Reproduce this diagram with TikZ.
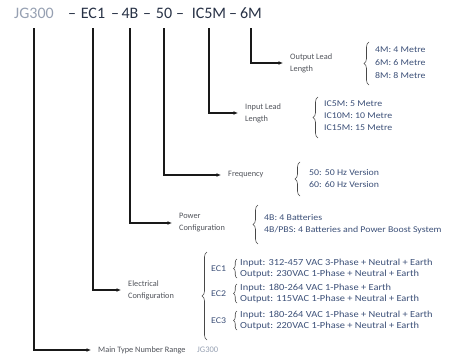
\documentclass[tikz,border=0pt]{standalone}
\usepackage{fontspec}
\setmainfont{Carlito}
\newfontfamily\itemfont[FakeStretch=1.12]{Carlito}
\usetikzlibrary{arrows.meta,decorations.pathreplacing}
\definecolor{itemc}{RGB}{60,80,120}
\definecolor{labelc}{RGB}{80,83,90}
\definecolor{titlec}{RGB}{40,50,70}
\definecolor{faintc}{RGB}{150,160,178}
\definecolor{linec}{RGB}{25,25,25}
\begin{document}
\begin{tikzpicture}[x=1pt,y=-1pt,
  title/.style={font=\fontsize{16}{19}\selectfont, text=titlec, inner sep=0pt, anchor=base},
  lbl/.style={font=\fontsize{8.3}{12}\selectfont, text=labelc, align=left, anchor=west, inner xsep=7pt, inner ysep=0pt},
  item/.style={font=\itemfont\fontsize{8.8}{10}\selectfont, text=itemc, anchor=west, inner sep=0pt},
  eitem/.style={font=\itemfont\fontsize{9.3}{10}\selectfont, text=itemc, anchor=west, inner sep=0pt},
  conn/.style={draw=linec, line width=1.6pt, -{Latex[length=4.5pt,width=4pt]}},
  brc/.style={draw=linec!80, line width=0.6pt, decorate, decoration={brace, amplitude=5pt}},
  sbrc/.style={draw=linec!80, line width=0.6pt, decorate, decoration={brace, amplitude=3.5pt}}]

\useasboundingbox (0,0) rectangle (461,359);

% title
\node[title,text=faintc] (jg) at (34,18) {JG300};
\node[title] (d1) at (72,18) {–};
\node[title] (ec) at (93,18) {EC1};
\node[title] (d2) at (115,18) {–};
\node[title] (bt) at (130,18) {4B};
\node[title] (d3) at (147,18) {–};
\node[title] (fq) at (164,18) {50};
\node[title] (d4) at (180,18) {–};
\node[title] (ic) at (209,18) {IC5M};
\node[title] (d5) at (233,18) {–};
\node[title] (om) at (251,18) {6M};

% labels
\node[lbl] (outl) at (283,63) {Output Lead\\Length};
\node[lbl] (inl) at (238,113) {Input Lead\\Length};
\node[lbl] (freq) at (221,175) {Frequency};
\node[lbl] (pow) at (172,223) {Power\\Configuration};
\node[lbl] (elec) at (121,290) {Electrical\\Configuration};
\node[lbl] (main) at (91,350) {Main Type Number Range};
\node[lbl,text=faintc,inner xsep=0pt,font=\fontsize{8.5}{12}\selectfont] (mainv) at (197,350) {JG300};

% connectors
\draw[conn] ([yshift=-10pt]om.south) |- (outl.west);
\draw[conn] ([yshift=-10pt]ic.south) |- (inl.west);
\draw[conn] ([yshift=-10pt]fq.south) |- (freq.west);
\draw[conn] ([yshift=-10pt]bt.south) |- (pow.west);
\draw[conn] ([yshift=-10pt]ec.south) |- (elec.west);
\draw[conn] ([yshift=-10pt]jg.south) |- (main.west);

% output lead
\draw[brc] (369,85) -- (369,42);
\node[item] (o1) at (375,50) {4M: 4 Metre};
\node[item] (o2) at (375,63) {6M: 6 Metre};
\node[item] (o3) at (375,76) {8M: 8 Metre};

% input lead
\draw[brc] (318,138) -- (318,97);
\node[item] (i1) at (324,104) {IC5M: 5 Metre};
\node[item] (i2) at (324,116) {IC10M: 10 Metre};
\node[item] (i3) at (324,128) {IC15M: 15 Metre};

% frequency
\draw[brc] (300,196) -- (300,162);
\node[item] (f1) at (309,173) {50: 50 Hz Version};
\node[item] (f2) at (309,185) {60: 60 Hz Version};

% power
\draw[brc] (258,244) -- (258,205);
\node[item] (p1) at (264,218) {4B: 4 Batteries};
\node[item] (p2) at (264,230) {4B/PBS: 4 Batteries and Power Boost System};

% electrical
\draw[brc] (207,340) -- (207,252);
\node[item] (e1) at (211,268.5) {EC1};
\node[item] (e2) at (211,293.5) {EC2};
\node[item] (e3) at (211,320.5) {EC3};
\draw[sbrc] (237,278) -- (237,259);
\draw[sbrc] (237,303) -- (237,284);
\draw[sbrc] (237,330) -- (237,311);
\node[eitem] (e1a) at (240,263) {Input: 312-457 VAC 3-Phase + Neutral + Earth};
\node[eitem] (e1b) at (240,274) {Output: 230VAC 1-Phase + Neutral + Earth};
\node[eitem] (e2a) at (240,288) {Input: 180-264 VAC 1-Phase + Earth};
\node[eitem] (e2b) at (240,299) {Output: 115VAC 1-Phase + Neutral + Earth};
\node[eitem] (e3a) at (240,315) {Input: 180-264 VAC 1-Phase + Neutral + Earth};
\node[eitem] (e3b) at (240,326) {Output: 220VAC 1-Phase + Neutral + Earth};
\end{tikzpicture}
\end{document}
